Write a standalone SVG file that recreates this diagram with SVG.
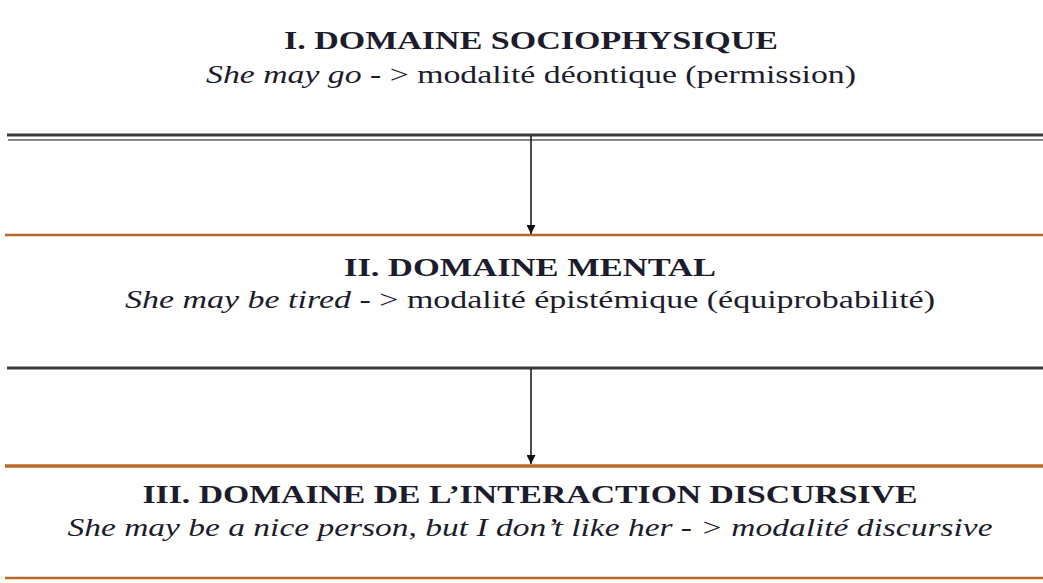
<svg xmlns="http://www.w3.org/2000/svg" width="1043" height="583" viewBox="0 0 1043 583">
<defs>
<style>
.t{font-family:"Liberation Serif","Times New Roman",serif;font-weight:bold;font-size:26px;fill:#1c1c2c;text-anchor:middle}
.s{font-family:"Liberation Serif","Times New Roman",serif;font-size:25px;fill:#1c1c2c;text-anchor:middle}
.i{font-style:italic}
.dark{stroke:#3a3a3a;stroke-width:3}
.gray{stroke:#8a8a8a;stroke-width:2}
.or{stroke:#b8692a;stroke-width:2.5}
.ar{stroke:#111;stroke-width:1.5;fill:none}
</style>
<marker id="ah" viewBox="0 0 10 10" refX="10" refY="5" markerWidth="10" markerHeight="9" orient="auto" markerUnits="userSpaceOnUse">
<path d="M0,0 L10,5 L0,10 z" fill="#111"/>
</marker>
</defs>
<rect width="1043" height="583" fill="#fff"/>
<g id="node1">
<text class="t" x="531" y="49" textLength="494" lengthAdjust="spacingAndGlyphs">I. DOMAINE SOCIOPHYSIQUE</text>
<text class="s" x="531" y="83" textLength="650" lengthAdjust="spacingAndGlyphs"><tspan class="i">She may go</tspan> -   &gt; modalité déontique (permission)</text>
<line class="dark" x1="7" y1="135" x2="1043" y2="135"/>
<line class="gray" x1="8" y1="140" x2="1043" y2="140"/>
</g>
<g id="node2">
<line class="or" x1="5" y1="235" x2="1043" y2="235"/>
<text class="t" x="530" y="276" textLength="372" lengthAdjust="spacingAndGlyphs">II. DOMAINE MENTAL</text>
<text class="s" x="530" y="308" textLength="810" lengthAdjust="spacingAndGlyphs"><tspan class="i">She may be tired</tspan> -   &gt; modalité épistémique (équiprobabilité)</text>
<line class="dark" x1="7" y1="368" x2="1043" y2="368"/>
</g>
<g id="node3">
<line class="or" x1="5" y1="466" x2="1043" y2="466" style="stroke-width:3.5"/>
<text class="t" x="530" y="503" textLength="775" lengthAdjust="spacingAndGlyphs">III. DOMAINE DE L’INTERACTION DISCURSIVE</text>
<text class="s i" x="530" y="536" textLength="925" lengthAdjust="spacingAndGlyphs">She may be a nice person, but I don’t like her -   &gt; modalité discursive</text>
<line class="or" x1="5" y1="578" x2="1043" y2="578"/>
</g>
<g id="connectors">
<line class="ar" x1="531" y1="136" x2="531" y2="234" marker-end="url(#ah)"/>
<line class="ar" x1="531" y1="369" x2="531" y2="464" marker-end="url(#ah)"/>
</g>
</svg>
